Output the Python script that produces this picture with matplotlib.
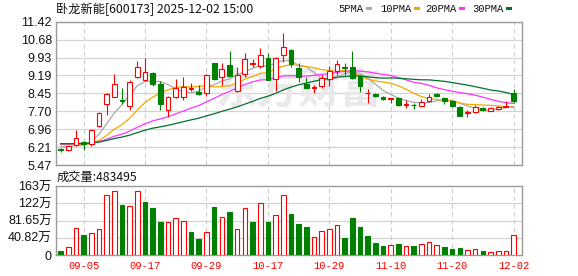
import matplotlib
matplotlib.use("Agg")
import matplotlib.pyplot as plt
from matplotlib.patches import Rectangle
import numpy as np

plt.rcParams["font.family"] = ["Liberation Sans", "Noto Sans CJK SC"]

# trading days shown (2025)
dates = [
    "09-02", "09-03", "09-04", "09-05", "09-08", "09-09", "09-10", "09-11",
    "09-12", "09-15", "09-16", "09-17", "09-18", "09-19", "09-22", "09-23",
    "09-24", "09-25", "09-26", "09-29", "09-30", "10-09", "10-10", "10-13",
    "10-14", "10-15", "10-16", "10-17", "10-20", "10-21", "10-22", "10-23",
    "10-24", "10-27", "10-28", "10-29", "10-30", "10-31", "11-03", "11-04",
    "11-05", "11-06", "11-07", "11-10", "11-11", "11-12", "11-13", "11-14",
    "11-17", "11-18", "11-19", "11-20", "11-21", "11-24", "11-25", "11-26",
    "11-27", "11-28", "12-01", "12-02",
]
opens = [
    6.15, 6.08, 6.30, 6.44, 6.35, 7.10, 7.99, 8.30, 8.18, 7.92,
    9.11, 9.00, 9.30, 8.85, 7.75, 8.30, 8.30, 8.62, 8.50, 8.45,
    9.70, 9.14, 9.62, 8.56, 9.24, 9.66, 9.58, 9.90, 9.03, 10.04,
    10.25, 9.49, 8.84, 8.68, 8.75, 9.04, 9.37, 9.52, 9.55, 9.17,
    8.46, 8.42, 8.31, 8.23, 8.24, 7.95, 7.97, 7.92, 8.12, 8.41,
    8.27, 8.13, 7.89, 7.62, 7.66, 7.84, 7.72, 7.78, 7.88, 8.45,
]
highs = [
    6.17, 6.27, 6.93, 6.46, 6.95, 7.65, 8.45, 9.25, 8.66, 9.00,
    9.79, 9.90, 9.35, 8.95, 8.35, 9.05, 9.11, 8.86, 8.79, 9.23,
    9.72, 9.69, 10.20, 9.55, 10.11, 9.86, 10.31, 10.13, 9.95, 10.96,
    10.27, 9.72, 9.14, 8.79, 9.21, 9.58, 9.83, 9.72, 10.22, 9.20,
    8.61, 8.45, 8.34, 8.25, 8.28, 8.16, 8.06, 8.19, 8.40, 8.45,
    8.31, 8.17, 7.94, 7.76, 7.96, 7.86, 7.86, 7.90, 8.12, 8.61,
]
lows = [
    6.03, 6.05, 6.27, 6.10, 6.27, 7.03, 7.55, 8.28, 7.99, 7.75,
    9.07, 8.95, 8.75, 7.75, 7.45, 8.25, 8.18, 8.53, 8.37, 8.33,
    9.00, 8.79, 9.15, 8.52, 9.14, 9.55, 9.49, 8.98, 8.56, 9.76,
    9.55, 8.91, 8.63, 8.48, 8.66, 8.75, 9.21, 9.22, 9.04, 8.52,
    8.03, 8.30, 8.18, 8.06, 7.92, 7.82, 7.78, 7.90, 8.08, 8.29,
    7.99, 7.88, 7.50, 7.48, 7.62, 7.72, 7.70, 7.76, 7.86, 8.06,
]
closes = [
    6.10, 6.25, 6.58, 6.36, 6.93, 7.62, 8.42, 8.82, 8.12, 8.92,
    9.53, 9.33, 8.85, 8.02, 8.30, 8.66, 8.70, 8.66, 8.40, 9.21,
    9.05, 9.44, 9.17, 9.21, 9.86, 9.72, 10.04, 9.00, 9.90, 10.36,
    9.66, 9.14, 8.68, 8.71, 9.07, 9.37, 9.66, 9.50, 9.07, 8.73,
    8.47, 8.34, 8.22, 8.24, 7.96, 7.99, 7.96, 8.10, 8.30, 8.32,
    8.13, 7.92, 7.52, 7.69, 7.89, 7.75, 7.83, 7.89, 7.90, 8.12,
]
# closes before 09-02, estimated so the moving averages start where the chart shows
pre_closes = [
    6.30, 6.34, 6.38, 6.41, 6.36, 6.33, 6.37, 6.42, 6.45, 6.40,
    6.35, 6.31, 6.36, 6.39, 6.44, 6.41, 6.37, 6.33, 6.36, 6.40,
    6.43, 6.46, 6.41, 6.38, 6.35, 6.30, 6.27, 6.24, 6.25,
]
# volume in 万手
volumes = [
    10.2, 18.8, 63.6, 47.9, 51.8, 61.2, 141.0, 150.7, 118.5, 115.4,
    150.7, 125.6, 111.5, 78.5, 78.5, 87.1, 80.9, 55.0, 38.5, 54.2,
    113.8, 89.5, 102.0, 61.2, 110.7, 78.5, 122.5, 78.5, 94.2, 141.3,
    97.3, 73.8, 66.7, 42.4, 57.3, 61.2, 70.7, 40.8, 87.9, 66.7,
    45.5, 29.0, 22.0, 23.6, 26.7, 21.2, 22.0, 25.9, 30.6, 24.3,
    19.6, 13.3, 17.3, 11.8, 14.1, 10.2, 7.1, 9.4, 9.4, 48.3495,
]
label_dates = ["09-05", "09-17", "09-29", "10-17", "10-29", "11-10", "11-20", "12-02"]
price_ticks = ["5.47", "6.21", "6.96", "7.70", "8.45", "9.19", "9.93", "10.68", "11.42"]
vol_ticks = [0, 40.82, 81.65, 122.47, 163.3]
vol_tick_labels = ["0", "40.82万", "81.65万", "122万", "163万"]
ma_periods = [5, 10, 20, 30]
ma_colors = ["#aaaaaa", "#f2a900", "#ff33ff", "#00702f"]

RED = "#ff0000"
GREEN = "#008000"
GRID = "#d4d4d4"
FRAME = "#9a9a9a"
W, H = 578, 276


def moving_average(values, n):
    """Simple moving average, aligned with the last len(closes) points."""
    arr = np.asarray(values, dtype=float)
    ma = np.convolve(arr, np.ones(n) / n, mode="valid")
    return ma[-len(closes):]


def style_axes(ax, x_lines):
    for side in ax.spines.values():
        side.set_color(FRAME)
        side.set_linewidth(1.0)
    ax.tick_params(length=0, labelsize=9, colors="#111111", pad=3)
    ax.set_xticks([])
    ax.grid(False)
    for xv in x_lines:
        ax.axvline(xv, color="#cccccc", linestyle=(0, (4, 3)), linewidth=0.8, zorder=0)


x = np.arange(len(dates))
o = np.asarray(opens)
c = np.asarray(closes)
up = c >= o
prev_close = np.concatenate([[pre_closes[-1]], c[:-1]])
vol_up = c >= prev_close
tick_idx = [dates.index(d) for d in label_dates]

fig = plt.figure(figsize=(W / 100, H / 100), dpi=100)
fig.patch.set_facecolor("white")

# price panel
ax = fig.add_axes([56 / W, 1 - 165 / H, 466 / W, 143.3 / H])
style_axes(ax, tick_idx)
yt = [float(t) for t in price_ticks]
for yv in yt:
    ax.axhline(yv, color=GRID, linewidth=0.9, zorder=0)
ax.set_yticks(yt)
ax.set_yticklabels(price_ticks)
ax.set_ylim(5.47, 11.42)
ax.set_xlim(-0.6, 60.1)

ax.text(0.52, 0.52, "东方财富", transform=ax.transAxes, ha="center", va="center",
        fontsize=30, fontweight="bold", color="#e9e9eb", family=["Noto Sans CJK SC"],
        zorder=0.5)

all_closes = list(pre_closes) + list(closes)
for n, col in zip(ma_periods, ma_colors):
    ax.plot(x, moving_average(all_closes, n), color=col, linewidth=0.9, zorder=2)

for i in x:
    col = RED if up[i] else GREEN
    ax.vlines(i, lows[i], highs[i], color=col, linewidth=0.8, zorder=3)
    body_low = min(o[i], c[i])
    body_h = max(abs(c[i] - o[i]), 0.015)
    ax.bar(i, body_h, bottom=body_low, width=0.62,
           facecolor="white" if up[i] else GREEN, edgecolor=col,
           linewidth=0.8, zorder=4)

# volume panel
axv = fig.add_axes([56 / W, 1 - 255 / H, 466 / W, 69 / H])
style_axes(axv, tick_idx)
for yv in vol_ticks[1:-1]:
    axv.axhline(yv, color=GRID, linewidth=0.9, zorder=0)
axv.set_yticks(vol_ticks)
axv.set_yticklabels(vol_tick_labels)
axv.set_ylim(0, 163.3)
axv.set_xlim(-0.6, 60.1)
for i in x:
    col = RED if vol_up[i] else GREEN
    axv.bar(i, volumes[i], width=0.6, facecolor="white" if vol_up[i] else col,
            edgecolor=col, linewidth=0.8, zorder=3)

for i, lab in zip(tick_idx, label_dates):
    axv.text(i, -0.16, lab, transform=axv.get_xaxis_transform(), ha="center",
             va="center", color=RED, fontsize=7.6,
             family=["Liberation Mono", "Noto Sans CJK SC"])

# header texts
fig.text(56 / W, 1 - 9 / H, "卧龙新能[600173] 2025-12-02 15:00", ha="left",
         va="center", fontsize=8.8, family=["Noto Sans CJK SC"], color="#111111")
fig.text(57 / W, 1 - 177 / H, "成交量:%d" % round(volumes[-1] * 10000),
         ha="left", va="center", fontsize=8.8, family=["Noto Sans CJK SC"],
         color="#111111")

# legend
legend_x = [338, 380, 425, 472]
for lx, n, col in zip(legend_x, ma_periods, ma_colors):
    name = "%dPMA" % n
    fig.text(lx / W, 1 - 8.5 / H, name, ha="left", va="center", fontsize=7.6,
             family=["Liberation Mono"], color="#111111")
    mx = lx + len(name) * 6.2 + 3
    fig.patches.append(Rectangle((mx / W, 1 - 10 / H), 6 / W, 3 / H,
                                 transform=fig.transFigure, facecolor=col,
                                 edgecolor="none"))

fig.savefig("out.png", dpi=100)
